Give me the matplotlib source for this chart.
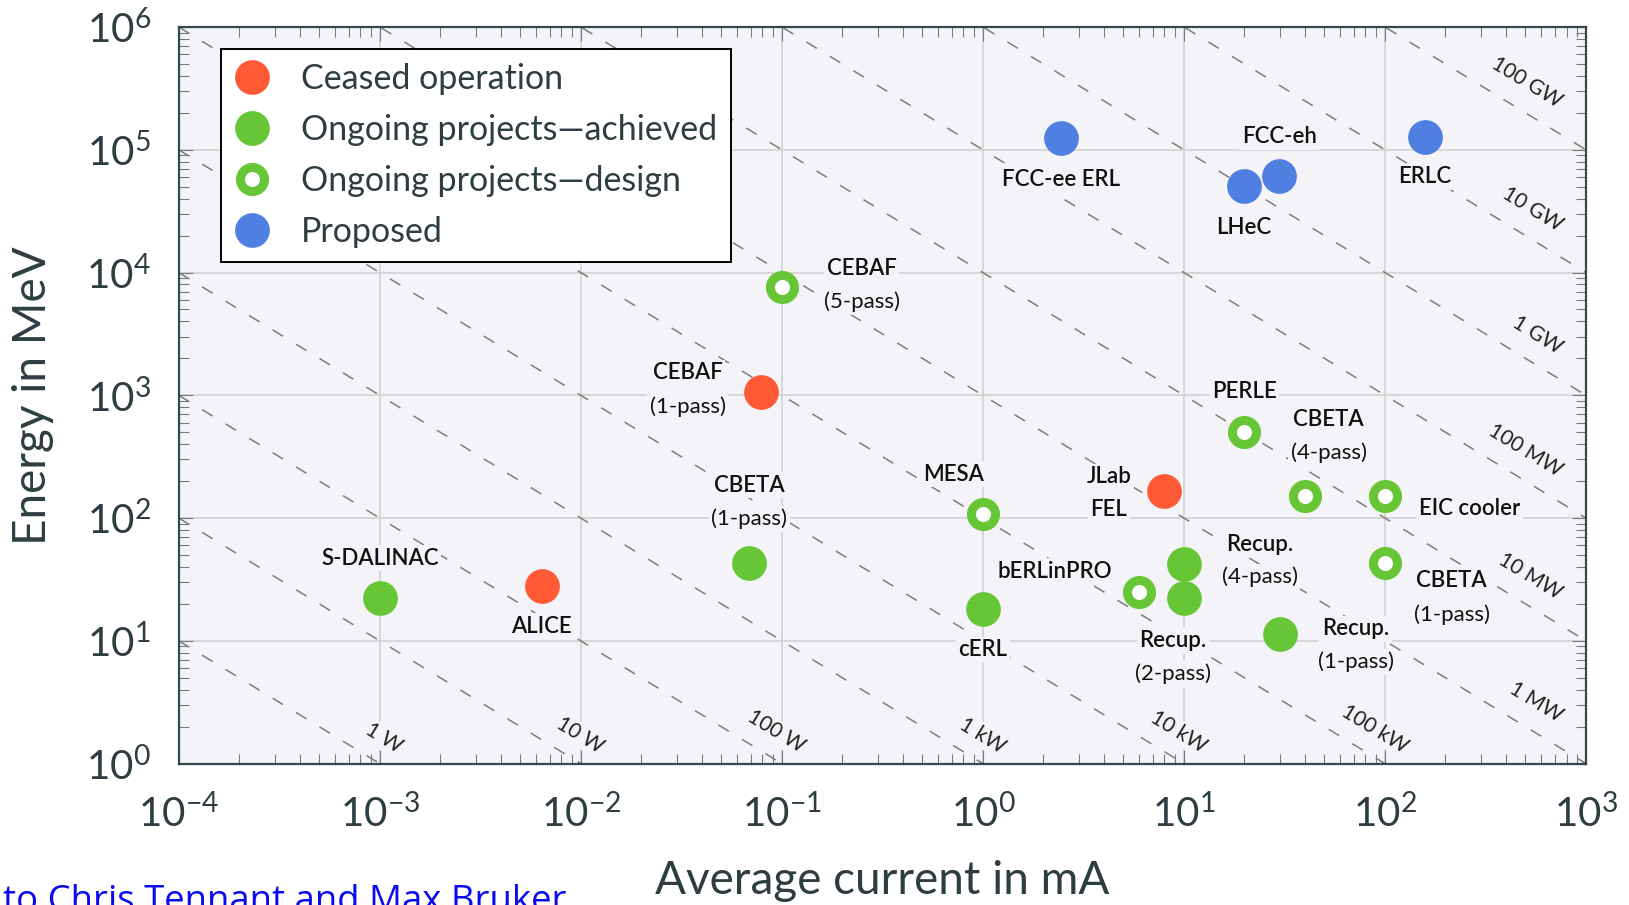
import numpy as np
import matplotlib
matplotlib.use("Agg")
import matplotlib.pyplot as plt
from matplotlib.lines import Line2D
from matplotlib.ticker import LogLocator, NullFormatter

plt.rcParams['font.family'] = ['Lato', 'DejaVu Sans']

# === data: average current (mA) and beam energy (MeV) ===
ceased_names = ['CEBAF (1-pass)', 'ALICE', 'JLab FEL']
ceased_current = [0.079, 0.0064, 8.0]
ceased_energy = [1070, 28, 167]

achieved_names = ['S-DALINAC', 'CBETA (1-pass)', 'cERL', 'Recup. (4-pass)',
                  'Recup. (2-pass)', 'Recup. (1-pass)']
achieved_current = [0.001, 0.069, 1.0, 10, 10, 30]
achieved_energy = [22.5, 43, 18, 42.5, 22.3, 11.4]

design_names = ['CEBAF (5-pass)', 'MESA', 'bERLinPRO', 'PERLE', 'CBETA (4-pass)',
                'EIC cooler', 'CBETA (1-pass)']
design_current = [0.1, 1.0, 6.0, 20, 40, 100, 100]
design_energy = [7600, 107, 25, 500, 152, 150, 43]

proposed_names = ['FCC-ee ERL', 'LHeC', 'FCC-eh', 'ERLC']
proposed_current = [2.46, 19.9, 29.8, 158]
proposed_energy = [1.24e5, 5.1e4, 6.1e4, 1.28e5]

# beam power lines, in kW (1 W ... 100 GW)
power_kw = [1e-3, 1e-2, 1e-1, 1, 1e1, 1e2, 1e3, 1e4, 1e5, 1e6, 1e7, 1e8]
power_labels = ['1 W', '10 W', '100 W', '1 kW', '10 kW', '100 kW',
                '1 MW', '10 MW', '100 MW', '1 GW', '10 GW', '100 GW']

legend_labels = ['Ceased operation', 'Ongoing projects\u2014achieved',
                 'Ongoing projects\u2014design', 'Proposed']

# label placement (offset points): dx, dy of first line, dy of second line
ceased_lbl = [(-53, 13.5, -10.5), (0, -29, None), (-40, 10, -13.4)]
achieved_lbl = [(0, 28.5, None), (0, 56, 32), (0, -29, None), (54.5, 13.7, -9.6),
                (-8, -30.7, -54.6), (54.6, 3.7, -20.2)]
design_lbl = [(57.6, 13.5, -10.5), (-21, 29, None), (-61, 15, None), (0, 29, None),
              (17, 54.6, 30.7), (61, -9, None), (48, -12.7, -37.4)]
proposed_lbl = [(0, -30, None), (0, -30, None), (0, 28.5, None), (0, -29, None)]

RED = '#ff5a35'
GREEN = '#66c636'
BLUE = '#4f7fe0'
BG = '#f4f4f8'
INK = '#2e3d42'

fig = plt.figure(figsize=(16.29, 9.05), dpi=100)
ax = fig.add_axes([0.1097, 0.15624, 0.8639, 0.81393])
ax.set_facecolor(BG)
ax.set_xscale('log')
ax.set_yscale('log')
ax.set_xlim(1e-4, 1e3)
ax.set_ylim(1e0, 1e6)

ax.xaxis.set_major_locator(LogLocator(base=10, numticks=20))
ax.yaxis.set_major_locator(LogLocator(base=10, numticks=20))
ax.xaxis.set_minor_locator(LogLocator(base=10, subs=np.arange(2, 10), numticks=100))
ax.yaxis.set_minor_locator(LogLocator(base=10, subs=np.arange(2, 10), numticks=100))
ax.xaxis.set_minor_formatter(NullFormatter())
ax.yaxis.set_minor_formatter(NullFormatter())

ax.set_axisbelow(True)
ax.grid(True, which='major', color='#cfcfcf', lw=1.1)
ax.tick_params(which='both', direction='in', top=True, right=True, color='#7a7a7a',
               width=0.8, labelsize=29, labelcolor=INK)
ax.tick_params(which='major', length=10)
ax.tick_params(which='minor', length=7)
ax.tick_params(axis='x', pad=22)
ax.tick_params(axis='y', pad=20)
for sp in ax.spines.values():
    sp.set_color('#37474f')
    sp.set_linewidth(1.6)

# constant power lines
cur = np.array([1e-4, 1e3])
for p in power_kw:
    ax.plot(cur, p / cur, ls=(0, (8, 10)), color='#7d7d7d', lw=1.1, zorder=1.5)

# line direction on screen, used to place the power labels
p0 = ax.transData.transform((1, 1))
p1 = ax.transData.transform((10, 0.1))
ang = np.degrees(np.arctan2(p1[1] - p0[1], p1[0] - p0[0]))
rad = np.radians(abs(ang))
dvec = np.array([np.cos(rad), -np.sin(rad)])   # along the line, down-right
nvec = np.array([np.sin(rad), np.cos(rad)])    # normal, up-right
for p, lab in zip(power_kw, power_labels):
    if p < 1e3:
        xy = (p, 1.0)                           # where the line meets the bottom
        off = 17.3 * nvec + 7.2 * dvec
    else:
        xy = (1e3, p / 1e3)                     # where the line meets the right side
        off = 19.0 * nvec - 33.0 * dvec
    ax.annotate(lab, xy, xytext=tuple(off), textcoords='offset points',
                rotation=ang, rotation_mode='anchor', ha='right', va='center',
                fontsize=15, color='#222222', zorder=3, annotation_clip=False,
                bbox=dict(boxstyle='square,pad=0.1', fc=BG, ec='none'))

# data points
ax.scatter(ceased_current, ceased_energy, s=625, color=RED, lw=0, zorder=4)
ax.scatter(achieved_current, achieved_energy, s=625, color=GREEN, lw=0, zorder=4)
ax.scatter(design_current, design_energy, s=300, facecolor='white', edgecolor=GREEN,
           lw=6.5, zorder=4)
ax.scatter(proposed_current, proposed_energy, s=625, color=BLUE, lw=0, zorder=4)


def put_labels(names, xs, ys, layout):
    box = dict(boxstyle='square,pad=0.12', fc=BG, ec='none')
    for name, x, y, (dx, dy1, dy2) in zip(names, xs, ys, layout):
        if dy2 is None:
            ax.annotate(name, (x, y), xytext=(dx, dy1), textcoords='offset points',
                        ha='center', va='center', fontsize=16, weight='semibold',
                        color='#111111', bbox=box, zorder=3)
        else:
            head, tail = name.split(' ', 1)
            w2 = 'normal' if tail.startswith('(') else 'semibold'
            ax.annotate(head, (x, y), xytext=(dx, dy1), textcoords='offset points',
                        ha='center', va='center', fontsize=16, weight='semibold',
                        color='#111111', bbox=box, zorder=3)
            ax.annotate(tail, (x, y), xytext=(dx, dy2), textcoords='offset points',
                        ha='center', va='center', fontsize=16, weight=w2,
                        color='#111111', bbox=box, zorder=3)


put_labels(ceased_names, ceased_current, ceased_energy, ceased_lbl)
put_labels(achieved_names, achieved_current, achieved_energy, achieved_lbl)
put_labels(design_names, design_current, design_energy, design_lbl)
put_labels(proposed_names, proposed_current, proposed_energy, proposed_lbl)

# legend
handles = [
    Line2D([], [], ls='none', marker='o', ms=25, mfc=RED, mec='none'),
    Line2D([], [], ls='none', marker='o', ms=25, mfc=GREEN, mec='none'),
    Line2D([], [], ls='none', marker='o', ms=17.3, mfc='white', mec=GREEN, mew=6.5),
    Line2D([], [], ls='none', marker='o', ms=25, mfc=BLUE, mec='none'),
]
leg = ax.legend(handles, legend_labels, loc='upper left', bbox_to_anchor=(0.030, 0.970),
                borderaxespad=0, prop=dict(size=24.5), frameon=True,
                fancybox=False, edgecolor='black', framealpha=1, handlelength=1.0,
                handletextpad=0.92, labelspacing=0.55, borderpad=0.42)
leg.get_frame().set_linewidth(1.4)
leg.set_zorder(10)
for t in leg.get_texts():
    t.set_color(INK)

ax.set_xlabel('Average current in mA', fontsize=33, color=INK, va='center')
ax.set_ylabel('Energy in MeV', fontsize=33, color=INK, va='center')
ax.xaxis.set_label_coords(0.5, -0.1594)
ax.yaxis.set_label_coords(-0.1035, 0.5)

fig.text(0.002, 1 - 911 / 905, 'to Chris Tennant and Max Bruker', color='#0a0af0',
         fontsize=26.3, family='Open Sans', va='baseline', ha='left')

fig.savefig('out.png', dpi=100, facecolor='white')
